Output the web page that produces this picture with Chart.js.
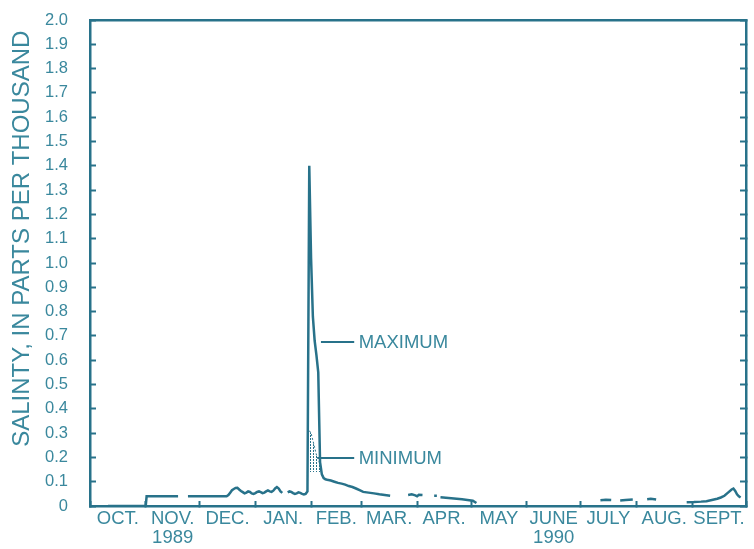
<!DOCTYPE html>
<html>
<head>
<meta charset="utf-8">
<script src="https://cdn.jsdelivr.net/npm/chart.js@4.4.1/dist/chart.umd.min.js"></script>
<style>
  html, body { margin: 0; padding: 0; background: #ffffff; }
  canvas { display: block; }
</style>
</head>
<body>
<canvas id="salinity" width="754" height="549"></canvas>
<script>
// Day 0 = 1 October 1989, day 365 = 1 October 1990.
const monthStarts = [0, 31, 61, 92, 123, 151, 182, 212, 243, 273, 304, 335, 365];
const monthNames = ['OCT.', 'NOV.', 'DEC.', 'JAN.', 'FEB.', 'MAR.', 'APR.', 'MAY', 'JUNE', 'JULY', 'AUG.', 'SEPT.'];
const yearLabels = ['', '1989', '', '', '', '', '', '', '1990', '', '', ''];

// Daily maximum salinity (parts per thousand); null marks missing record.
const maxDays = [
  10, 31, 31.5, 49, 52,
  54.5, 76, 77, 78, 79, 80, 81, 82, 83, 84, 85, 86, 87, 88, 89, 90,
  91, 92, 93, 94, 95, 96, 97, 98, 99, 100, 101, 102, 103, 104, 105, 106, 107, 108.5,
  110, 111, 112, 113, 114, 115, 116, 117, 118, 119, 120, 121,
  122, 123, 124, 125, 126, 127, 128, 129, 130, 131, 132, 134, 136, 138, 140, 142, 144,
  146, 148, 150, 152, 155, 158, 161, 164, 167, 172,
  177, 179, 181, 182, 183, 185, 188,
  191.5, 193, 194,
  195, 198, 201, 204, 207, 210, 213, 215, 250,
  284, 287, 290, 292,
  295, 298, 302, 306,
  310, 312, 315, 324,
  332, 336, 340, 343, 346, 349, 351, 353, 355, 357, 358, 359, 360, 361, 362
];
const maxSalinity = [
  0, 0, 0.04, 0.04, null,
  0.04, 0.04, 0.045, 0.055, 0.065, 0.07, 0.074, 0.075, 0.068, 0.062, 0.057, 0.052, 0.055, 0.06, 0.058, 0.052,
  0.05, 0.053, 0.058, 0.06, 0.057, 0.053, 0.055, 0.06, 0.064, 0.06, 0.058, 0.063, 0.072, 0.078, 0.072, 0.06, 0.054, null,
  0.056, 0.06, 0.058, 0.053, 0.05, 0.052, 0.056, 0.054, 0.05, 0.048, 0.05, 0.06,
  1.40, 1.02, 0.78, 0.68, 0.62, 0.55, 0.18, 0.13, 0.115, 0.11, 0.108, 0.105, 0.1, 0.095, 0.092, 0.088, 0.082,
  0.078, 0.072, 0.065, 0.058, 0.055, 0.052, 0.048, 0.045, 0.042, null,
  0.045, 0.048, 0.044, 0.04, 0.046, 0.045, null,
  0.042, 0.042, null,
  0.036, 0.034, 0.032, 0.03, 0.028, 0.025, 0.022, 0.012, null,
  0.024, 0.026, 0.025, null,
  0.023, 0.025, 0.027, null,
  0.028, 0.03, 0.027, null,
  0.015, 0.016, 0.018, 0.02, 0.025, 0.03, 0.035, 0.042, 0.055, 0.068, 0.072, 0.062, 0.048, 0.04, 0.035
];

// Daily minimum salinity where it departs from the maximum (early February).
const minDays = [122, 123, 124, 125, 126, 127, 128, 129];
const minSalinity = [0.31, 0.30, 0.27, 0.24, 0.21, 0.195, 0.17, 0.14];

// Curve labels with their leader lines (day and salinity coordinates).
const curveNotes = [
  { text: 'MAXIMUM', level: 0.675, fromDay: 128.5, toDay: 147, textDay: 149.5 },
  { text: 'MINIMUM', level: 0.198, fromDay: 126.5, toDay: 147, textDay: 149.5 }
];
const yTitle = 'SALINTY, IN PARTS PER THOUSAND';

const LINE = '#28728a';
const TEXT = '#3a889d';
const FONT = "'Liberation Sans', Arial, Helvetica, sans-serif";
Chart.defaults.font.family = FONT;

// Month boundaries carry tick marks; month centres carry the labels.
const monthMids = monthNames.map((_, i) => (monthStarts[i] + monthStarts[i + 1]) / 2);
const xTickValues = monthStarts.concat(monthMids).sort((a, b) => a - b);
const isBoundary = v => monthStarts.indexOf(v) !== -1;

function monthLabel(value) {
  const i = monthMids.indexOf(value);
  if (i === -1) return '';
  return yearLabels[i] ? [monthNames[i], yearLabels[i]] : monthNames[i];
}

// Vertical dotted hatching for the minimum band.
function makeHatch() {
  const c = document.createElement('canvas');
  c.width = 3; c.height = 3;
  const g = c.getContext('2d');
  g.fillStyle = LINE;
  g.fillRect(1, 0, 1, 2);
  return g.createPattern(c, 'repeat');
}

// Vertical axes: keep the label offset from pushing the plot edges inward.
function fitVertical(width) {
  return s => {
    s.width = width;
    s.paddingTop = 8;
    s.paddingBottom = 8;
  };
}

const notesPlugin = {
  id: 'curveNotes',
  afterDatasetsDraw(chart) {
    const { ctx } = chart;
    const xs = chart.scales.x, ys = chart.scales.y;
    ctx.save();
    ctx.strokeStyle = LINE;
    ctx.lineWidth = 2;
    ctx.fillStyle = TEXT;
    ctx.font = '18.5px ' + FONT;
    ctx.textAlign = 'left';
    ctx.textBaseline = 'middle';
    curveNotes.forEach(n => {
      const y = ys.getPixelForValue(n.level);
      ctx.beginPath();
      ctx.moveTo(xs.getPixelForValue(n.fromDay), y);
      ctx.lineTo(xs.getPixelForValue(n.toDay), y);
      ctx.stroke();
      ctx.fillText(n.text, xs.getPixelForValue(n.textDay), y + 1);
    });
    ctx.restore();
  },
  afterDraw(chart) {
    const { ctx } = chart;
    const ys = chart.scales.y;
    ctx.save();
    ctx.translate(22, ys.getPixelForValue(1.1));
    ctx.rotate(-Math.PI / 2);
    ctx.fillStyle = TEXT;
    ctx.font = '24px ' + FONT;
    ctx.textAlign = 'center';
    ctx.textBaseline = 'middle';
    ctx.fillText(yTitle, 0, 0);
    ctx.restore();
  }
};

new Chart(document.getElementById('salinity'), {
  type: 'line',
  data: {
    datasets: [
      {
        label: 'MAXIMUM',
        data: maxDays.map((d, i) => ({ x: d, y: maxSalinity[i] })),
        borderColor: LINE,
        borderWidth: 2.5,
        pointRadius: 0,
        tension: 0,
        spanGaps: false,
        fill: false
      },
      {
        label: 'MINIMUM',
        data: minDays.map((d, i) => ({ x: d, y: minSalinity[i] })),
        borderColor: LINE,
        borderWidth: 1,
        borderDash: [2, 2],
        pointRadius: 0,
        tension: 0,
        fill: { value: 0.14 },
        backgroundColor: makeHatch()
      }
    ]
  },
  options: {
    responsive: false,
    animation: false,
    devicePixelRatio: 1,
    layout: { padding: 0 },
    plugins: {
      legend: { display: false },
      tooltip: { enabled: false }
    },
    scales: {
      x: {
        type: 'linear',
        position: 'bottom',
        min: 0,
        max: 365,
        afterBuildTicks: s => { s.ticks = xTickValues.map(v => ({ value: v })); },
        afterFit: s => { s.height = 43; },
        grid: {
          drawOnChartArea: false,
          tickLength: -5,
          tickWidth: 2,
          tickColor: ctx => (ctx.tick && isBoundary(ctx.tick.value)) ? LINE : 'rgba(0,0,0,0)'
        },
        border: { color: LINE, width: 2.5 },
        ticks: {
          autoSkip: false,
          maxRotation: 0,
          minRotation: 0,
          padding: 8,
          color: TEXT,
          font: { size: 18.5, lineHeight: 1.054 },
          callback: v => monthLabel(v)
        }
      },
      xTop: {
        type: 'linear',
        position: 'top',
        min: 0,
        max: 365,
        afterFit: s => { s.height = 20; },
        ticks: { display: false },
        grid: { drawOnChartArea: false, drawTicks: false },
        border: { color: LINE, width: 2.5 }
      },
      y: {
        type: 'linear',
        position: 'left',
        min: 0,
        max: 2,
        afterFit: fitVertical(90),
        grid: { drawOnChartArea: false, tickLength: -6, tickWidth: 2, tickColor: LINE },
        border: { color: LINE, width: 2.5 },
        ticks: {
          stepSize: 0.1,
          padding: 28,
          color: TEXT,
          font: { size: 16.5 },
          callback: v => (Math.abs(v) < 1e-9 ? '0' : v.toFixed(1))
        }
      },
      y2: {
        type: 'linear',
        position: 'right',
        min: 0,
        max: 2,
        afterFit: fitVertical(6),
        grid: { drawOnChartArea: false, tickLength: -6, tickWidth: 2, tickColor: LINE },
        border: { color: LINE, width: 2.5 },
        ticks: { stepSize: 0.1, display: false }
      }
    }
  },
  plugins: [notesPlugin]
});
</script>
</body>
</html>
